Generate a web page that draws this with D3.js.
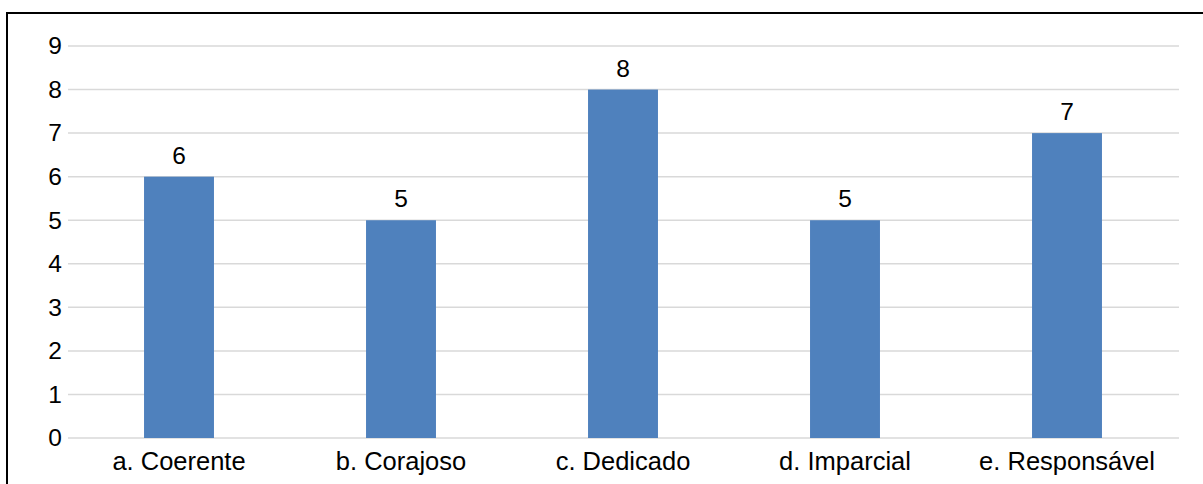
<!DOCTYPE html>
<html><head><meta charset="utf-8">
<script src="https://cdn.jsdelivr.net/npm/d3@7/dist/d3.min.js"></script>
<style>body{margin:0;background:#fff;}svg{display:block;}</style>
</head><body>
<script>
const categories = ["a. Coerente","b. Corajoso","c. Dedicado","d. Imparcial","e. Responsável"];
const values = [6,5,8,5,7];
const yTicks = [0,1,2,3,4,5,6,7,8,9];

const W=1203,H=484;
const svg=d3.select("body").append("svg").attr("width",W).attr("height",H);
svg.append("rect").attr("x",7).attr("y",13).attr("width",1220).attr("height",500)
  .attr("fill","none").attr("stroke","#000").attr("stroke-width",2);

const x=d3.scaleBand().domain(categories).range([68,1178]).paddingInner(0.685).paddingOuter(0.3425);
const y=d3.scaleLinear().domain([0,9]).range([438,46]);

const font="Liberation Sans, Arial, sans-serif";
const fs=24.5;
const g=svg.append("g");
g.selectAll("line.grid").data(yTicks).join("line")
  .attr("x1",68).attr("x2",1179).attr("y1",d=>y(d)).attr("y2",d=>y(d))
  .attr("stroke","#d9d9d9").attr("stroke-width",1.5);

const yAxis=d3.axisLeft(y).tickValues(yTicks).tickSize(0).tickPadding(0);
const ya=svg.append("g").attr("transform","translate(62,0)").call(yAxis);
ya.select(".domain").remove();
ya.selectAll("text").attr("font-family",font).attr("font-size",fs).attr("fill","#000");

g.selectAll("rect.bar").data(values).join("rect")
  .attr("x",(d,i)=>x(categories[i])).attr("width",x.bandwidth())
  .attr("y",d=>y(d)).attr("height",d=>y(0)-y(d))
  .attr("fill","#4f81bd");

g.selectAll("text.lbl").data(values).join("text")
  .attr("x",(d,i)=>x(categories[i])+x.bandwidth()/2).attr("y",d=>y(d)-13)
  .attr("text-anchor","middle").attr("font-family",font).attr("font-size",fs).attr("fill","#000")
  .text(d=>d);

const xAxis=d3.axisBottom(x).tickSize(0).tickPadding(0);
const xa=svg.append("g").attr("transform","translate(0,470)").call(xAxis);
xa.select(".domain").remove();
xa.selectAll("text").attr("font-family",font).attr("font-size",25.5).attr("fill","#000").attr("y",0).attr("dy",0);
</script>
</body></html>
